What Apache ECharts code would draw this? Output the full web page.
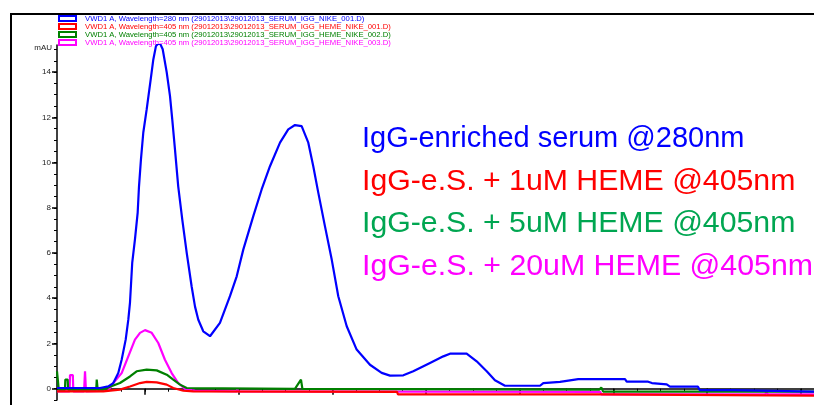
<!DOCTYPE html>
<html>
<head>
<meta charset="utf-8">
<title>SEC chromatogram</title>
<script src="https://cdn.jsdelivr.net/npm/echarts@6/dist/echarts.min.js"></script>
<style>
  html, body { margin: 0; padding: 0; background: #fff; }
  #chart { width: 814px; height: 405px; }
</style>
</head>
<body>
<div id="chart"></div>
<script>
// retention time (arbitrary units, one major tick = 1) vs absorbance in mAU

// 280 nm, IgG-enriched serum
const serum280 = [
  [0.061, 0.03], [0.52, 0.03], [0.608, 0.10], [0.662, 0.25], [0.715, 0.69], [0.751, 1.28],
  [0.794, 2.17], [0.822, 3.05], [0.840, 3.81], [0.864, 5.58], [0.893, 6.60], [0.922, 7.79],
  [0.936, 8.94], [0.957, 10.14], [0.982, 11.33], [1.018, 12.35], [1.061, 13.68], [1.089, 14.56],
  [1.117, 15.15], [1.142, 15.27], [1.165, 15.23], [1.189, 15.01], [1.232, 13.99], [1.267, 12.94],
  [1.291, 11.91], [1.320, 10.58], [1.355, 8.94], [1.398, 7.48], [1.445, 6.02], [1.498, 4.52],
  [1.534, 3.63], [1.569, 3.05], [1.622, 2.54], [1.694, 2.32], [1.800, 2.91], [1.907, 4.09],
  [1.979, 4.97], [2.049, 6.15], [2.156, 7.63], [2.245, 8.81], [2.334, 9.84], [2.441, 10.88],
  [2.529, 11.47], [2.601, 11.66], [2.672, 11.61], [2.743, 10.88], [2.796, 9.84], [2.850, 8.66],
  [2.921, 7.18], [2.993, 5.71], [3.063, 4.09], [3.153, 2.76], [3.259, 1.73], [3.401, 1.06],
  [3.526, 0.70], [3.615, 0.58], [3.757, 0.59], [3.863, 0.77], [4.042, 1.14], [4.184, 1.43],
  [4.255, 1.55], [4.433, 1.55], [4.540, 1.21], [4.647, 0.77], [4.735, 0.37], [4.842, 0.13],
  [5.216, 0.13], [5.251, 0.25], [5.429, 0.30], [5.624, 0.42], [6.123, 0.42], [6.141, 0.31],
  [6.370, 0.31], [6.390, 0.36], [6.410, 0.25], [6.568, 0.19], [6.603, 0.09], [6.902, 0.09],
  [6.920, -0.06], [7.275, -0.06], [7.290, -0.13], [8.14, -0.13]
];

// 405 nm, + 1 uM heme
const heme1 = [
  [0.061, -0.12], [0.555, -0.12], [0.733, -0.04], [0.840, 0.10], [0.947, 0.25], [1.018, 0.30],
  [1.125, 0.28], [1.232, 0.18], [1.302, 0.03], [1.409, -0.09], [1.515, -0.12], [3.69, -0.14],
  [3.70, -0.25], [5.86, -0.25], [5.87, -0.31], [8.14, -0.31]
];

// 405 nm, + 5 uM heme
const heme5 = [
  [0.061, 0.77], [0.075, 0.77], [0.08, -0.04], [0.146, -0.04], [0.150, 0.40], [0.175, 0.40],
  [0.180, -0.04], [0.480, -0.04], [0.485, 0.40], [0.495, -0.04], [0.555, -0.04], [0.591, 0.03],
  [0.733, 0.25], [0.840, 0.54], [0.911, 0.77], [1.018, 0.84], [1.125, 0.81], [1.232, 0.62],
  [1.302, 0.40], [1.374, 0.18], [1.445, 0.03], [2.600, -0.01], [2.665, 0.40], [2.680, -0.01],
  [5.85, -0.04], [5.87, 0.05], [5.89, -0.13], [8.14, -0.13]
];

// 405 nm, + 20 uM heme
const heme20 = [
  [0.061, -0.12], [0.195, -0.12], [0.200, 0.60], [0.230, 0.60], [0.235, -0.12], [0.350, -0.12],
  [0.360, 0.77], [0.370, -0.12], [0.608, -0.09], [0.662, 0.25], [0.751, 0.69], [0.822, 1.43],
  [0.893, 2.17], [0.947, 2.47], [1.0, 2.59], [1.072, 2.47], [1.142, 2.02], [1.213, 1.28],
  [1.285, 0.69], [1.355, 0.25], [1.427, -0.01], [1.534, -0.09], [1.980, -0.12], [1.985, 0.02],
  [1.995, -0.12], [5.86, -0.14], [5.87, -0.25], [7.62, -0.25], [7.63, -0.14], [7.65, -0.25],
  [8.14, -0.25]
];

const seriesNames = [
  'VWD1 A, Wavelength=280 nm (29012013\\29012013_SERUM_IGG_NIKE_001.D)',
  'VWD1 A, Wavelength=405 nm (29012013\\29012013_SERUM_IGG_HEME_NIKE_001.D)',
  'VWD1 A, Wavelength=405 nm (29012013\\29012013_SERUM_IGG_HEME_NIKE_002.D)',
  'VWD1 A, Wavelength=405 nm (29012013\\29012013_SERUM_IGG_HEME_NIKE_003.D)'
];
const lineColors = ['#0000ff', '#ff0000', '#008000', '#ff00ff'];

const annotations = [
  'IgG-enriched serum @280nm',
  'IgG-e.S. + 1uM HEME @405nm',
  'IgG-e.S. + 5uM HEME @405nm',
  'IgG-e.S. + 20uM HEME @405nm'
];
const annotationColors = ['#0000ff', '#ff0000', '#00a651', '#ff00ff'];

const yLabels = [0, 2, 4, 6, 8, 10, 12, 14];
const yMinorTicks = [];
for (let v = -0.5; v <= 15; v += 0.5) yMinorTicks.push(v);
const xMajorTicks = [1, 2, 3, 4, 5, 6, 7, 8];
const xMinorTicks = [];
for (let v = 0.25; v <= 8.1; v += 0.25) xMinorTicks.push(v);

const X_MIN = 0.061, X_MAX = 8.14, Y_MIN = -0.5, Y_MAX = 15.2;
const gridBox = { left: 57, top: 45, right: 0, bottom: 5 };

// the reference font runs a bit wider on the heme lines
const annotationTop = [124, 167, 209, 252];
const annotationStretch = [1, 1.043, 1.043, 1.045];

const chart = echarts.init(document.getElementById('chart'), null, { renderer: 'canvas' });

const option = {
  animation: false,
  backgroundColor: '#fff',
  textStyle: { fontFamily: 'Liberation Sans, Arial, sans-serif' },
  grid: [
    Object.assign({}, gridBox),
    Object.assign({}, gridBox)
  ],
  legend: {
    left: 58,
    top: 14.5,
    padding: 0,
    orient: 'vertical',
    icon: 'rect',
    itemWidth: 17,
    itemHeight: 5,
    itemGap: 0,
    selectedMode: false,
    textStyle: { fontSize: 7.7, lineHeight: 6.6, padding: [0, 0, 0, 4] },
    data: seriesNames.map((n, i) => ({
      name: n,
      itemStyle: { color: '#fff', borderColor: lineColors[i], borderWidth: 2 },
      textStyle: { color: lineColors[i] }
    }))
  },
  xAxis: [
    {
      gridIndex: 0, type: 'value', min: X_MIN, max: X_MAX,
      axisLine: { lineStyle: { color: '#000', width: 1.5 } },
      axisTick: { customValues: xMinorTicks, length: 3, lineStyle: { color: '#000' } },
      axisLabel: { show: false },
      splitLine: { show: false }
    },
    {
      gridIndex: 1, type: 'value', min: X_MIN, max: X_MAX,
      axisLine: { show: false },
      axisTick: { customValues: xMajorTicks, length: 6, lineStyle: { color: '#000', width: 1.5 } },
      axisLabel: { show: false },
      splitLine: { show: false }
    }
  ],
  yAxis: [
    {
      gridIndex: 0, type: 'value', min: Y_MIN, max: Y_MAX,
      name: 'mAU', nameLocation: 'end', nameGap: -3,
      nameTextStyle: { color: '#222', fontSize: 8, align: 'right', verticalAlign: 'middle', padding: [0, 5, 0, 0] },
      axisLine: { lineStyle: { color: '#000', width: 1.5 } },
      axisTick: { customValues: yMinorTicks, length: 3, lineStyle: { color: '#000' } },
      axisLabel: { customValues: yLabels, color: '#222', fontSize: 8, margin: 6 },
      splitLine: { show: false }
    },
    {
      gridIndex: 1, type: 'value', min: Y_MIN, max: Y_MAX,
      axisLine: { show: false },
      axisTick: { customValues: yLabels, length: 5, lineStyle: { color: '#000', width: 1.5 } },
      axisLabel: { show: false },
      splitLine: { show: false }
    }
  ],
  series: [serum280, heme1, heme5, heme20].map((d, i) => ({
    name: seriesNames[i],
    type: 'line',
    xAxisIndex: 0,
    yAxisIndex: 0,
    data: d,
    symbol: 'none',
    clip: true,
    lineStyle: { color: lineColors[i], width: 2.2 },
    itemStyle: { color: lineColors[i] },
    z: 4 - i
  })),
  graphic: [
    {
      type: 'rect', z: -1, silent: true,
      shape: { x: 11, y: 14, width: 900, height: 500 },
      style: { fill: 'none', stroke: '#000', lineWidth: 2 }
    }
  ].concat(annotations.map((t, i) => ({
    type: 'text',
    x: 362,
    y: annotationTop[i],
    scaleX: annotationStretch[i],
    style: {
      text: t,
      fill: annotationColors[i],
      font: '29px "Liberation Sans", Arial, sans-serif'
    }
  })))
};

chart.setOption(option);
</script>
</body>
</html>
